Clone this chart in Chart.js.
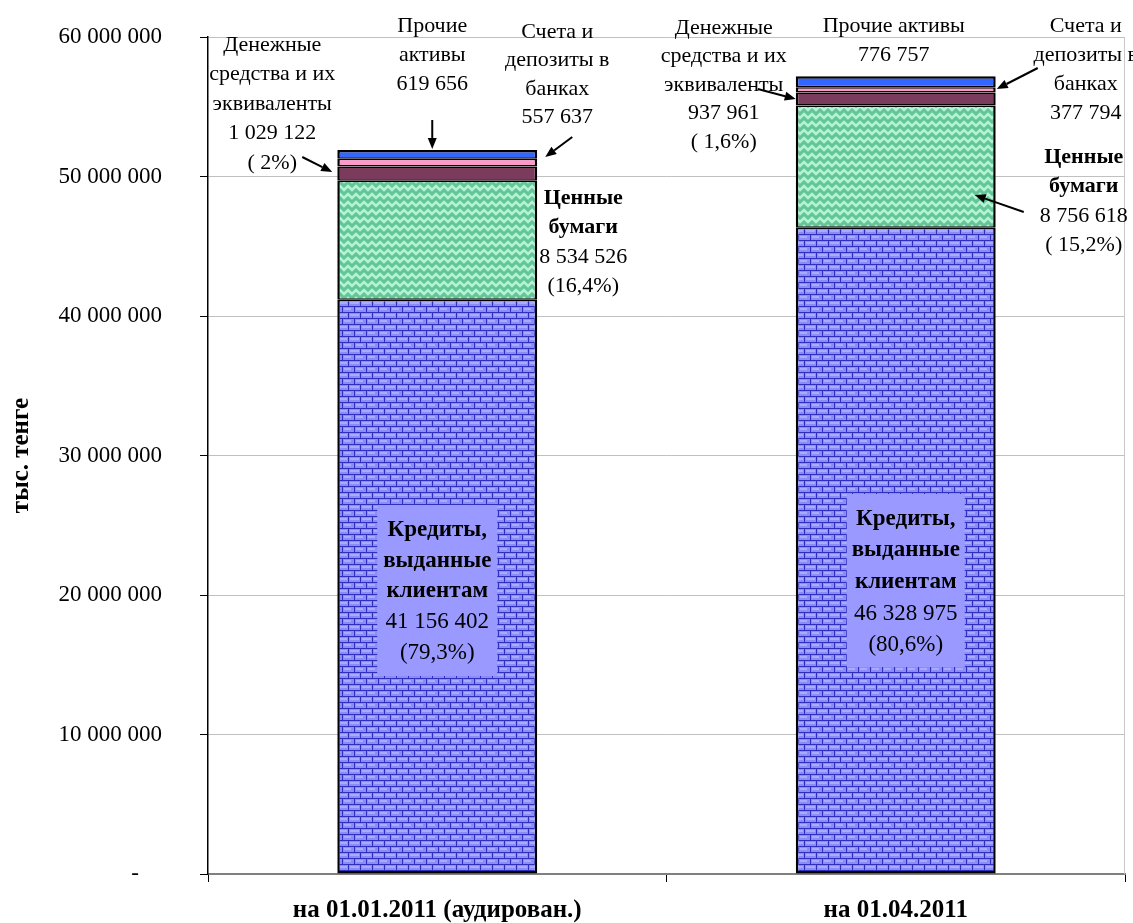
<!DOCTYPE html>
<html lang="ru">
<head>
<meta charset="utf-8">
<title>Структура активов</title>
<script src="https://cdn.jsdelivr.net/npm/chart.js@4.4.0/dist/chart.umd.min.js"></script>
<style>
  html, body { margin: 0; padding: 0; background: #fff; }
  canvas { display: block; }
</style>
</head>
<body>
<canvas id="assetsChart" width="1133" height="923"></canvas>
<script>
// данные, тыс. тенге
const categories = ['на 01.01.2011 (аудирован.)', 'на 01.04.2011'];
const credits = [41156402, 46328975];
const securities = [8534526, 8756618];
const cash = [1029122, 937961];
const deposits = [557637, 377794];
const otherAssets = [619656, 776757];
const creditShare = ['(79,3%)', '(80,6%)'];
const securitiesShare = ['(16,4%)', '( 15,2%)'];
const cashShare = ['( 2%)', '( 1,6%)'];
const yTicks = [0, 10000000, 20000000, 30000000, 40000000, 50000000, 60000000];

const FONT = "'Liberation Serif', 'Times New Roman', serif";
Chart.defaults.font.family = FONT;
Chart.defaults.font.size = 22;
Chart.defaults.color = '#000';

function fmt(v) {
    return String(v).replace(/\B(?=(\d{3})+(?!\d))/g, ' ');
}

// узоры заливки
function brickPattern() {
    const c = document.createElement('canvas');
    c.width = 12; c.height = 12;
    const g = c.getContext('2d');
    g.fillStyle = '#8c8cf6';
    g.fillRect(0, 0, 12, 12);
    g.fillStyle = '#aaaaff';
    g.fillRect(2, 2, 9, 2);
    g.fillRect(8, 8, 4, 2);
    g.fillRect(0, 8, 3, 2);
    g.fillStyle = '#3030c0';
    g.fillRect(0, 0, 12, 1);
    g.fillRect(0, 6, 12, 1);
    g.fillRect(0, 0, 1, 6);
    g.fillRect(6, 6, 1, 6);
    return g.createPattern(c, 'repeat');
}

function weavePattern() {
    const c = document.createElement('canvas');
    c.width = 16; c.height = 16;
    const g = c.getContext('2d');
    g.fillStyle = '#62c696';
    g.fillRect(0, 0, 16, 16);
    g.strokeStyle = '#b6f2d6';
    g.lineWidth = 2.5;
    g.lineCap = 'square';
    g.beginPath();
    g.moveTo(0, 6); g.lineTo(4, 2); g.lineTo(8, 6); g.lineTo(12, 2); g.lineTo(16, 6);
    g.moveTo(0, 14); g.lineTo(4, 10); g.lineTo(8, 14); g.lineTo(12, 10); g.lineTo(16, 14);
    g.stroke();
    return g.createPattern(c, 'repeat');
}

const midBorder = { top: 1.5, bottom: 1.5, left: 2.5, right: 2.5 };

function dataset(label, data, fill, border) {
    return {
        label: label,
        data: data,
        backgroundColor: fill,
        borderColor: '#000',
        borderWidth: border,
        borderSkipped: false,
        categoryPercentage: 1,
        barPercentage: 0.436
    };
}

// подписи сегментов: dx от центра столбца, y в пикселях холста
const notes = [
    { bar: 0, dx: -165, y: 45, step: 29.5, bold: 0,
      lines: ['Денежные', 'средства и их', 'эквиваленты', fmt(cash[0]), cashShare[0]] },
    { bar: 0, dx: -5, y: 26, step: 29, bold: 0,
      lines: ['Прочие', 'активы', fmt(otherAssets[0])] },
    { bar: 0, dx: 120, y: 32, step: 28.5, bold: 0,
      lines: ['Счета и', 'депозиты в', 'банках', fmt(deposits[0])] },
    { bar: 0, dx: 146, y: 198, step: 29.5, bold: 2,
      lines: ['Ценные', 'бумаги', fmt(securities[0]), securitiesShare[0]] },
    { bar: 1, dx: -172, y: 28, step: 28.5, bold: 0,
      lines: ['Денежные', 'средства и их', 'эквиваленты', fmt(cash[1]), cashShare[1]] },
    { bar: 1, dx: -2, y: 26, step: 29, bold: 0,
      lines: ['Прочие активы', fmt(otherAssets[1])] },
    { bar: 1, dx: 190, y: 26, step: 29, bold: 0,
      lines: ['Счета и', 'депозиты в', 'банках', fmt(deposits[1])] },
    { bar: 1, dx: 188, y: 157, step: 29.5, bold: 2,
      lines: ['Ценные', 'бумаги', fmt(securities[1]), securitiesShare[1]] }
];

const creditBoxes = [
    { bar: 0, dx: 0, w: 120, top: 505, bottom: 676, y: 530, step: 30.7 },
    { bar: 1, dx: 10, w: 118, top: 494, bottom: 667, y: 519, step: 31.5 }
];

const arrows = [
    { bar: 0, from: [-135, 157], to: [-105, 172] },
    { bar: 0, from: [-5, 120], to: [-5, 149] },
    { bar: 0, from: [135, 137], to: [108, 157] },
    { bar: 1, from: [-138, 89], to: [-100, 99] },
    { bar: 1, from: [142, 68], to: [101, 89] },
    { bar: 1, from: [128, 212], to: [79, 195] }
];

function drawArrow(ctx, x1, y1, x2, y2) {
    const a = Math.atan2(y2 - y1, x2 - x1);
    const len = 11, half = 4.5;
    const bx = x2 - len * Math.cos(a), by = y2 - len * Math.sin(a);
    ctx.beginPath();
    ctx.moveTo(x1, y1);
    ctx.lineTo(bx, by);
    ctx.lineWidth = 2;
    ctx.strokeStyle = '#000';
    ctx.stroke();
    ctx.beginPath();
    ctx.moveTo(x2, y2);
    ctx.lineTo(bx + half * Math.sin(a), by - half * Math.cos(a));
    ctx.lineTo(bx - half * Math.sin(a), by + half * Math.cos(a));
    ctx.closePath();
    ctx.fillStyle = '#000';
    ctx.fill();
}

const annotations = {
    id: 'annotations',
    beforeDatasetsDraw(chart) {
        // правая граница области построения
        const { ctx, chartArea } = chart;
        ctx.save();
        ctx.strokeStyle = '#c8c8c8';
        ctx.lineWidth = 1;
        ctx.beginPath();
        ctx.moveTo(chartArea.right - 0.5, chartArea.top);
        ctx.lineTo(chartArea.right - 0.5, chartArea.bottom);
        ctx.stroke();
        ctx.restore();
    },
    afterDraw(chart) {
        const { ctx } = chart;
        const bars = chart.getDatasetMeta(0).data;
        ctx.save();
        ctx.textAlign = 'center';
        ctx.textBaseline = 'middle';
        ctx.fillStyle = '#000';

        notes.forEach(n => {
            const cx = bars[n.bar].x + n.dx;
            n.lines.forEach((t, i) => {
                ctx.font = (i < n.bold ? 'bold ' : '') + '22px ' + FONT;
                ctx.fillText(t, cx, n.y + i * n.step);
            });
        });

        creditBoxes.forEach(b => {
            const cx = bars[b.bar].x + b.dx;
            ctx.fillStyle = '#9999ff';
            ctx.fillRect(cx - b.w / 2, b.top, b.w, b.bottom - b.top);
            ctx.fillStyle = '#000';
            const lines = ['Кредиты,', 'выданные', 'клиентам', fmt(credits[b.bar]), creditShare[b.bar]];
            lines.forEach((t, i) => {
                ctx.font = (i < 3 ? 'bold ' : '') + '23px ' + FONT;
                ctx.fillText(t, cx, b.y + i * b.step);
            });
        });

        arrows.forEach(a => {
            const cx = bars[a.bar].x;
            drawArrow(ctx, cx + a.from[0], a.from[1], cx + a.to[0], a.to[1]);
        });
        ctx.restore();
    }
};

const ctx = document.getElementById('assetsChart').getContext('2d');

new Chart(ctx, {
    type: 'bar',
    data: {
        labels: categories,
        datasets: [
            dataset('Кредиты, выданные клиентам', credits, brickPattern(), { top: 1.5, bottom: 2.5, left: 2.5, right: 2.5 }),
            dataset('Ценные бумаги', securities, weavePattern(), midBorder),
            dataset('Денежные средства и их эквиваленты', cash, '#7b3b5c', midBorder),
            dataset('Счета и депозиты в банках', deposits, '#ff99cc', midBorder),
            dataset('Прочие активы', otherAssets, '#3366ff', { top: 2.5, bottom: 1.5, left: 2.5, right: 2.5 })
        ]
    },
    options: {
        responsive: false,
        animation: false,
        devicePixelRatio: 1,
        layout: {
            padding: { top: 37, right: 8, bottom: 0, left: 0 }
        },
        plugins: {
            legend: { display: false },
            tooltip: { enabled: false }
        },
        scales: {
            x: {
                stacked: true,
                afterFit: (scale) => {
                    scale.height = 49;
                    scale.paddingLeft = 0;
                    scale.paddingRight = 0;
                },
                grid: {
                    display: true,
                    drawOnChartArea: false,
                    offset: true,
                    tickLength: 8,
                    tickColor: '#000'
                },
                border: { color: '#808080', width: 2 },
                ticks: {
                    padding: 14,
                    maxRotation: 0,
                    font: { size: 25, weight: 'bold' }
                }
            },
            y: {
                stacked: true,
                min: 0,
                max: 60000000,
                afterFit: (scale) => {
                    scale.width = 208;
                    scale.paddingTop = 0;
                    scale.paddingBottom = 0;
                },
                afterBuildTicks: (scale) => {
                    scale.ticks = yTicks.map(v => ({ value: v }));
                },
                grid: {
                    color: '#c0c0c0',
                    tickColor: '#000',
                    tickLength: 8
                },
                border: { color: '#000', width: 1.5 },
                ticks: {
                    padding: 38,
                    font: { size: 23 },
                    callback: (value) => value === 0 ? '-\u2003' : fmt(value)
                },
                title: {
                    display: true,
                    text: 'тыс. тенге',
                    font: { size: 25, weight: 'bold' },
                    padding: { top: 7, bottom: 0 }
                }
            }
        }
    },
    plugins: [annotations]
});
</script>
</body>
</html>
